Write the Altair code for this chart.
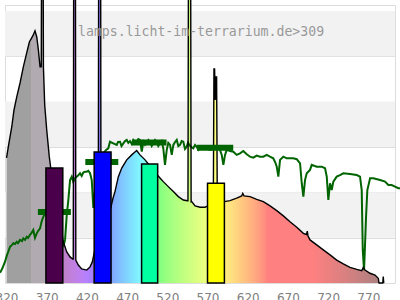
import altair as alt
import pandas as pd

# ---------------- data ----------------
spec_nm = [320.0, 322.2, 326.5, 329.3, 332.7, 336.8, 340.9, 345.1, 348.4, 351.3, 353.3, 355.4,
           357.6, 359.6, 361.7, 363.2, 364.0, 365.1, 365.9, 367.5, 370.0, 373.2, 377.8, 384.1,
           389.9, 394.9, 399.0, 402.3, 403.0, 403.8, 405.5, 406.2, 409.3, 413.5, 419.8, 423.9,
           426.7, 428.8, 431.3, 433.8, 434.1, 434.8, 436.9, 437.5, 438.8, 443.8, 449.6, 452.5,
           454.9, 459.1, 463.3, 469.5, 475.7, 481.9, 486.0, 492.3, 498.5, 503.5, 507.6, 510.9,
           515.0, 521.2, 527.5, 533.7, 539.9, 544.9, 545.7, 546.6, 548.7, 549.6, 550.3, 554.5,
           560.7, 566.9, 570.7, 577.2, 578.0, 578.8, 579.6, 580.3, 581.3, 582.2, 586.8, 590.9,
           598.0, 606.3, 612.5, 613.8, 615.4, 622.9, 631.2, 639.4, 647.8, 656.1, 664.3, 672.6,
           681.0, 689.2, 693.1, 694.1, 695.0, 697.5, 705.8, 714.0, 722.4, 730.7, 738.9, 747.3,
           755.6, 761.8, 763.8, 765.9, 772.1, 778.3, 782.4, 783.3, 788.0, 788.6, 789.2]
spec_val = [55.2, 60.0, 68.8, 76.3, 82.1, 88.2, 95.3, 101.5, 106.3, 108.1, 109.4, 111.2,
            108.5, 102.8, 95.3, 95.3, 200, 200, 95.3, 78.5, 67.5, 55.6, 43.2, 30.0,
            19.0, 13.7, 11.5, 10.6, 10.6, 200, 200, 10.0, 7.9, 6.2, 5.7, 7.1,
            9.3, 12.8, 16.8, 19.0, 19.5, 200, 200, 21.0, 22.5, 26.9, 33.1, 37.5,
            40.3, 46.9, 50.7, 54.3, 56.5, 58.4, 56.5, 54.3, 51.6, 49.4, 47.6, 46.3,
            44.7, 42.5, 40.3, 38.1, 36.6, 36.3, 36.3, 200, 200, 35.8, 35.9, 34.0,
            33.4, 33.4, 34.0, 34.4, 94.4, 94.4, 80.7, 90.9, 90.9, 34.4, 35.3, 35.9,
            36.3, 37.4, 38.4, 39.5, 38.4, 38.1, 36.9, 35.9, 34.0, 31.9, 29.6, 27.0,
            24.6, 21.9, 21.4, 22.9, 20.7, 19.0, 16.8, 14.6, 12.4, 10.1, 8.4, 6.9,
            6.0, 5.4, 6.9, 5.7, 4.3, 3.5, 2.1, 0.0, 0.0, 2.8, 0.0]

sun_nm = [311.9, 315.0, 318.1, 320.6, 322.2, 324.4, 326.8, 328.5, 330.6, 332.7, 334.3, 336.8,
          339.3, 340.9, 343.0, 345.1, 346.7, 349.2, 351.1, 353.3, 355.4, 357.6, 359.2, 361.7,
          363.5, 365.0, 367.9, 374.1, 380.3, 386.5, 390.6, 392.8, 394.9, 396.9, 399.0, 401.1,
          403.1, 405.2, 407.3, 409.6, 411.4, 413.5, 415.5, 417.6, 419.8, 421.7, 423.9, 426.0,
          428.0, 432.6, 438.8, 443.8, 446.6, 448.7, 452.8, 457.1, 458.7, 461.2, 463.0, 465.3,
          467.4, 469.5, 471.5, 473.6, 475.7, 477.7, 479.8, 481.9, 483.9, 486.0, 488.2, 490.2,
          492.3, 494.4, 496.4, 498.5, 500.6, 502.6, 504.7, 506.8, 508.8, 510.9, 513.0, 515.0,
          517.1, 519.3, 521.2, 523.4, 525.5, 527.5, 529.6, 531.7, 533.7, 535.8, 537.9, 539.9,
          542.0, 544.1, 545.7, 547.4, 549.5, 552.3, 554.5, 556.6, 558.6, 560.7, 564.8, 569.0,
          573.1, 577.2, 581.4, 585.5, 587.7, 589.7, 591.8, 593.9, 598.0, 602.1, 606.3, 610.4,
          614.5, 618.8, 622.9, 627.0, 631.2, 635.3, 639.4, 643.6, 647.7, 651.8, 654.6, 656.1,
          658.1, 660.2, 664.3, 668.5, 672.6, 676.7, 681.0, 685.1, 687.2, 689.2, 691.3, 693.4,
          697.5, 699.6, 705.8, 712.0, 716.2, 718.3, 720.3, 722.4, 724.5, 726.5, 730.7, 734.8,
          738.9, 747.3, 755.6, 759.7, 761.8, 763.1, 764.7, 766.0, 767.2, 768.8, 772.2, 776.3,
          784.6, 790.8, 794.9, 799.1, 803.2, 807.3, 809.4]
sun_val = [4.5, 6.6, 9.4, 12.4, 13.8, 16.0, 16.8, 17.5, 17.2, 18.2, 17.6, 19.0,
           18.5, 19.7, 19.0, 20.4, 19.9, 21.2, 22.1, 23.4, 19.9, 21.9, 22.9, 24.1,
           26.9, 28.5, 30.8, 34.4, 38.8, 30.0, 16.0, 19.0, 30.0, 36.6, 45.4, 46.9,
           44.6, 46.3, 46.9, 47.6, 48.4, 47.2, 48.7, 49.1, 49.1, 49.5, 48.4, 45.4,
           33.1, 49.9, 56.5, 58.7, 59.4, 62.3, 61.6, 60.9, 62.2, 62.3, 60.4, 61.6,
           62.6, 63.1, 61.8, 62.6, 61.3, 63.1, 62.2, 62.3, 63.5, 63.1, 57.9, 62.3,
           60.9, 61.6, 63.1, 62.3, 60.4, 61.6, 63.1, 62.3, 60.4, 61.6, 62.6, 59.4,
           52.1, 58.7, 61.8, 60.9, 56.5, 60.9, 62.2, 63.1, 60.4, 60.9, 62.6, 62.3,
           59.1, 60.1, 61.8, 60.9, 60.0, 59.4, 60.9, 60.1, 58.7, 59.4, 60.0, 59.4,
           58.7, 59.1, 60.0, 58.7, 56.5, 52.1, 56.5, 58.7, 58.2, 57.9, 56.5, 57.2,
           58.2, 56.8, 55.7, 55.3, 56.2, 55.7, 55.7, 56.5, 55.7, 55.0, 52.9, 51.3,
           46.9, 54.3, 55.7, 55.0, 55.0, 55.0, 54.6, 52.8, 44.0, 38.1, 45.4, 48.4,
           49.9, 52.1, 51.3, 51.3, 50.6, 46.9, 36.6, 44.0, 41.0, 44.7, 46.9, 47.6,
           48.4, 48.1, 47.6, 46.9, 41.0, 14.6, 5.7, 17.6, 29.3, 41.0, 46.2, 46.2,
           45.4, 44.7, 43.2, 43.2, 42.5, 41.8, 41.8]

bar_start = [369, 429, 488, 570]
bar_end = [390, 450, 508, 591]
bar_val = [50.7, 57.8, 52.5, 44.0]
bar_colors = ["#4b004b", "#0000ff", "#00ffa0", "#ffff00"]

seg_start = [359, 418, 476, 557]
seg_end = [400, 459, 519, 602]
seg_val = [31.3, 53.4, 62.0, 59.6]

band_lo = [20, 60, 100]
band_hi = [40, 80, 120]
grid_vals = [20, 40, 60, 80, 100, 120]
tick_vals = [320, 370, 420, 470, 520, 570, 620, 670, 720, 770]
label_text = "lamps.licht-im-terrarium.de>309"

XDOM = [318.1, 803.2]
YDOM = [0, 122.6]

# ---------------- colour gradient by wavelength ----------------
def wl_color(wl):
    if wl < 440:
        r, g, b = (440 - wl) / 60, 0.0, 1.0
    elif wl < 490:
        r, g, b = 0.0, (wl - 440) / 50, 1.0
    elif wl < 510:
        r, g, b = 0.0, 1.0, (510 - wl) / 20
    elif wl < 580:
        r, g, b = (wl - 510) / 70, 1.0, 0.0
    elif wl < 645:
        r, g, b = 1.0, (645 - wl) / 65, 0.0
    else:
        r, g, b = 1.0, 0.0, 0.0
    if wl < 420:
        f = 0.3 + 0.7 * (wl - 380) / 40
    elif wl > 700:
        f = 0.3 + 0.7 * (780 - min(wl, 780)) / 80
    else:
        f = 1.0
    def c(v):
        v = (v * f) ** 0.8 if v > 0 else 0.0
        return int(round((0.5 + 0.5 * v) * 255))
    return "#%02x%02x%02x" % (c(r), c(g), c(b))

lo, hi = min(spec_nm), max(spec_nm)
def off(w):
    return max(0.0, min(1.0, (w - lo) / (hi - lo)))

stops = [(off(320), "#a0a0a0"), (off(350), "#a0a0a0"), (off(350), "#b1aab1"),
         (off(388), "#b1aab1")]
w = 390
while w <= 780:
    stops.append((off(w), wl_color(w)))
    w += 5
stops.append((1.0, wl_color(780)))
grad = alt.LinearGradient(
    gradient="linear",
    stops=[alt.GradientStop(offset=o, color=c) for o, c in stops],
    x1=0, x2=1, y1=0, y2=0,
)

# ---------------- tables ----------------
spec = pd.DataFrame({"nm": spec_nm, "v": spec_val})
sun = pd.DataFrame({"nm": sun_nm, "v": sun_val})
bars = pd.DataFrame({"a": bar_start, "b": bar_end, "v": bar_val, "c": bar_colors})
segs = pd.DataFrame({"a": seg_start, "b": seg_end, "v": seg_val})
bands = pd.DataFrame({"lo": band_lo, "hi": band_hi})

xs = alt.Scale(domain=XDOM, nice=False, zero=False)
ys = alt.Scale(domain=YDOM, nice=False)

xaxis = alt.Axis(values=tick_vals, title=None, grid=False, ticks=False, tickSize=0,
                 domain=False, labelFont="DejaVu Sans", labelFontSize=12,
                 labelColor="#808080", labelPadding=9, labelFlush=False, format="d")
yaxis = alt.Axis(values=grid_vals, title=None, grid=True, gridColor="#dddddd",
                 labels=False, ticks=False, domain=False)

band_layer = alt.Chart(bands).mark_rect(color="#f2f2f2").encode(
    x=alt.value(0), x2=alt.value(390),
    y=alt.Y("lo:Q", scale=ys, axis=yaxis), y2="hi:Q")

area = alt.Chart(spec).mark_area(color=grad, interpolate="linear").encode(
    x=alt.X("nm:Q", scale=xs, axis=xaxis), y=alt.Y("v:Q", scale=ys))

sunline = alt.Chart(sun).mark_line(color="#006400", strokeWidth=2).encode(
    x=alt.X("nm:Q", scale=xs), y=alt.Y("v:Q", scale=ys))

outline = alt.Chart(spec).mark_line(color="#000000", strokeWidth=1.4).encode(
    x=alt.X("nm:Q", scale=xs), y=alt.Y("v:Q", scale=ys))

seg_layer = alt.Chart(segs).mark_rule(color="#006400", strokeWidth=6).encode(
    x=alt.X("a:Q", scale=xs), x2="b:Q", y=alt.Y("v:Q", scale=ys))

bar_layer = alt.Chart(bars).mark_rect(stroke="#000000", strokeWidth=1.5).encode(
    x=alt.X("a:Q", scale=xs), x2="b:Q",
    y=alt.Y("v:Q", scale=ys), y2=alt.datum(0),
    fill=alt.Fill("c:N", scale=None))

txt = alt.Chart(pd.DataFrame({"t": [label_text]})).mark_text(
    font="DejaVu Sans Mono", fontSize=13.2, color="#999999", align="left",
    baseline="alphabetic").encode(x=alt.value(73), y=alt.value(31), text="t:N")

chart = alt.layer(band_layer, area, sunline, outline, seg_layer, bar_layer, txt).properties(
    width=390, height=278,
    autosize=alt.AutoSizeParams(type="none"),
    padding={"left": 5, "top": 5, "right": 5, "bottom": 17},
    background="#ffffff",
).configure_view(stroke="#dddddd", strokeWidth=1)

chart.save("out.html", embed_options={"renderer": "svg", "actions": False})
